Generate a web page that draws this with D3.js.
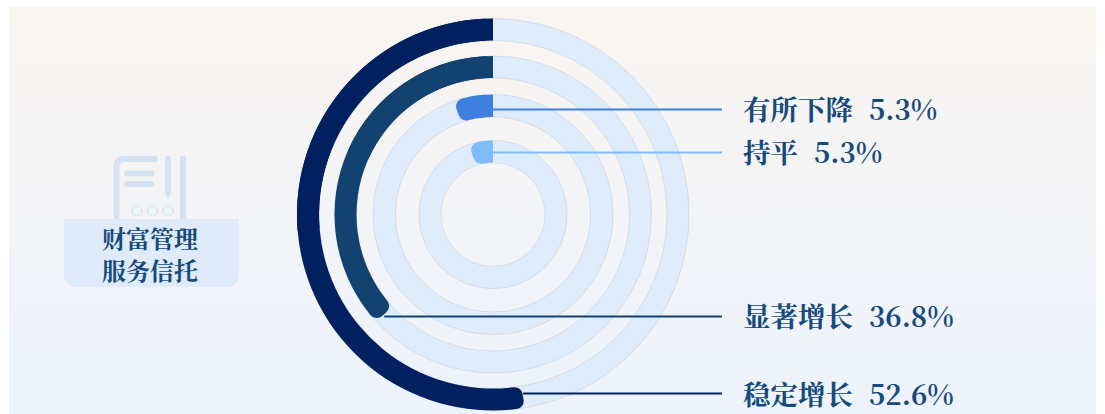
<!DOCTYPE html>
<html lang="zh">
<head>
<meta charset="utf-8">
<script src="https://cdn.jsdelivr.net/npm/d3@7/dist/d3.min.js"></script>
<style>
  html, body { margin: 0; padding: 0; background: #fff; }
  svg { display: block; }
  text { font-family: "Noto Serif CJK SC", "Liberation Serif", "Noto Sans CJK SC", serif; font-weight: 700; fill: #154a7d; }
</style>
</head>
<body>
<svg id="chart" width="1105" height="414"></svg>
<script>
// Share of respondents per outlook, innermost ring first
const categories = ["持平", "有所下降", "显著增长", "稳定增长"];
const shares = [5.3, 5.3, 36.8, 52.6];
const ringColors = ["#7fbcfb", "#3f7fdf", "#12426f", "#00205f"];
const panelLines = ["财富管理", "服务信托"];

const cx = 493, cy = 214.5;
const ringRadii = [[52, 74], [97.5, 120], [136.5, 158.5], [174, 196]];
const rowY = [152.5, 109.5, 316.5, 393.5];
const labelRowY = [150.5, 107.5, 314.5, 392.5];
const leaderEndX = 722, labelX = 743;

const svg = d3.select("#chart");
const defs = svg.append("defs");
const bg = defs.append("linearGradient").attr("id", "bg")
  .attr("x1", 0).attr("y1", 0).attr("x2", 0).attr("y2", 1);
bg.append("stop").attr("offset", "0%").attr("stop-color", "#f9f5f1");
bg.append("stop").attr("offset", "100%").attr("stop-color", "#edf3fc");

svg.append("rect").attr("x", 9).attr("y", 6).attr("width", 1087).attr("height", 408)
  .attr("fill", "url(#bg)");

// Document-and-pen icon above the caption panel
const icon = svg.append("g").attr("fill", "none").attr("stroke", "#d3e1f0")
  .attr("stroke-width", 6).attr("stroke-linecap", "round");
icon.append("path").attr("d", "M116.5 222V167Q116.5 159 124.5 159H155");
icon.append("path").attr("d", "M183 159V222");
icon.append("path").attr("d", "M127 173.5H151M127 184H151");
icon.append("path").attr("fill", "#d3e1f0").attr("stroke", "none")
  .attr("d", "M165 159a3 3 0 0 1 6 0V193L168 200L165 193Z");
icon.selectAll("circle").data([137, 152.5, 168]).join("circle")
  .attr("cx", d => d).attr("cy", 211).attr("r", 5)
  .attr("fill", "#eef7fb").attr("stroke-width", 1);

// Caption panel with square top and rounded bottom corners
svg.append("path")
  .attr("d", "M64 219H239V275a12 12 0 0 1 -12 12H76a12 12 0 0 1 -12 -12Z")
  .attr("fill", "#dfebfb");
svg.selectAll("text.panel").data(panelLines).join("text")
  .attr("class", "panel")
  .attr("x", 150).attr("y", (d, i) => 237 + i * 32)
  .attr("text-anchor", "middle").attr("dominant-baseline", "central")
  .attr("font-size", 24)
  .text(d => d);

// Angle runs counter-clockwise from twelve o'clock
const angle = d3.scaleLinear().domain([0, 100]).range([0, -2 * Math.PI]);
const rows = categories.map((name, i) => ({
  name, value: shares[i], color: ringColors[i],
  r0: ringRadii[i][0], r1: ringRadii[i][1], y: rowY[i], labelY: labelRowY[i]
}));

const rings = svg.append("g").attr("transform", `translate(${cx},${cy})`);
const sector = d3.arc().innerRadius(d => d.r0).outerRadius(d => d.r1);

rings.selectAll("path.track").data(rows).join("path")
  .attr("class", "track")
  .attr("d", d => sector({ ...d, startAngle: 0, endAngle: 2 * Math.PI }))
  .attr("fill", "#dfecfc")
  .attr("stroke", "#a9aeb8").attr("stroke-opacity", 0.6).attr("stroke-width", 0.5);

// Value arcs: rounded at the far end, square where they leave twelve o'clock
const rounded = d3.arc().innerRadius(d => d.r0).outerRadius(d => d.r1).cornerRadius(8);
rings.selectAll("path.value").data(rows).join("path")
  .attr("class", "value")
  .attr("d", d => rounded({ ...d, startAngle: 0, endAngle: angle(d.value) }))
  .attr("fill", d => d.color);
rings.selectAll("path.valueStart").data(rows).join("path")
  .attr("class", "valueStart")
  .attr("d", d => sector({ ...d, startAngle: 0, endAngle: angle(d.value) / 2 }))
  .attr("fill", d => d.color);

// Leader lines run from each arc to its label
const leaderStart = d => {
  if (d.value < 25) return cx;
  return cx + Math.sin(angle(d.value)) * (d.r0 + d.r1) / 2;
};
svg.selectAll("line.leader").data(rows).join("line")
  .attr("class", "leader")
  .attr("x1", leaderStart).attr("x2", leaderEndX)
  .attr("y1", d => d.y).attr("y2", d => d.y)
  .attr("stroke", d => d.color).attr("stroke-width", 2);

const labels = svg.selectAll("text.label").data(rows).join("text")
  .attr("class", "label")
  .attr("x", labelX).attr("y", d => d.labelY)
  .attr("dominant-baseline", "central")
  .attr("font-size", 27.5);
labels.append("tspan").text(d => d.name);
labels.append("tspan").attr("dx", 16).text(d => d.value.toFixed(1) + "%");
</script>
</body>
</html>
